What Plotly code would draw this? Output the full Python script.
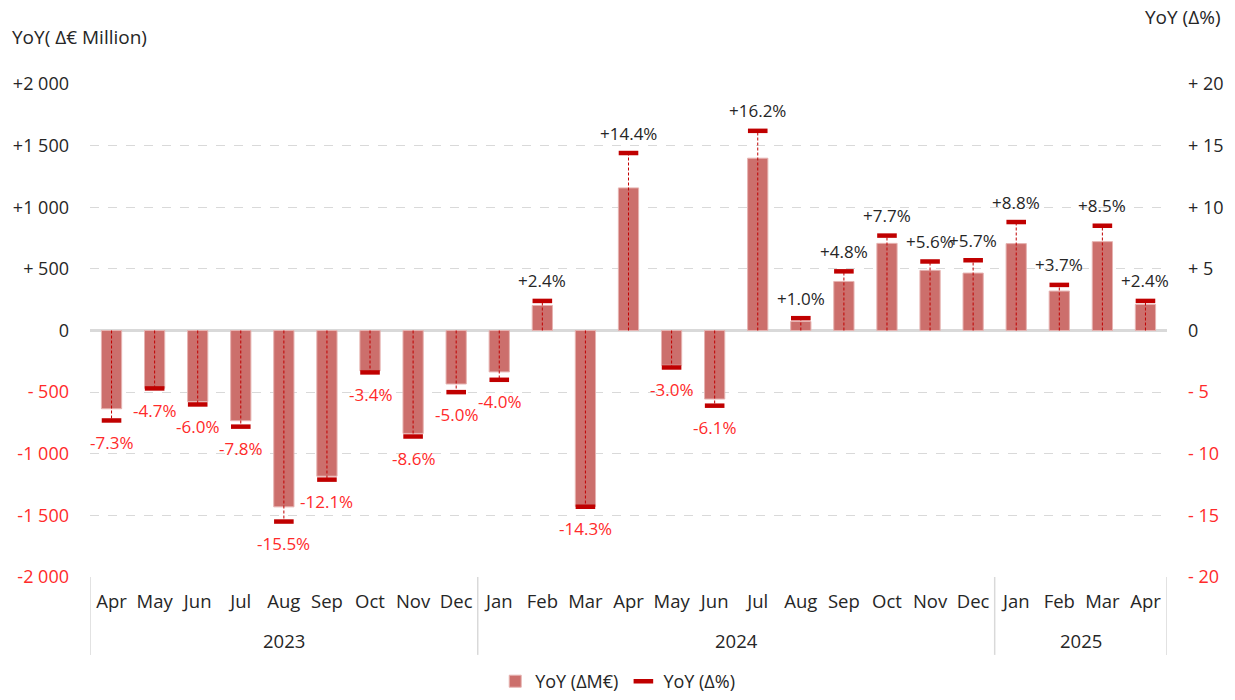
import plotly.graph_objects as go

# ---------------- data ----------------
years = ["2023"] * 9 + ["2024"] * 12 + ["2025"] * 4
months = ["Apr", "May", "Jun", "Jul", "Aug", "Sep", "Oct", "Nov", "Dec",
          "Jan", "Feb", "Mar", "Apr", "May", "Jun", "Jul", "Aug", "Sep", "Oct", "Nov", "Dec",
          "Jan", "Feb", "Mar", "Apr"]
yoy_meur = [-635, -469, -577, -732, -1431, -1182, -328, -835, -434,
            -336, 203, -1428, 1157, -282, -556, 1398, 73, 398, 707, 488, 466,
            705, 320, 721, 211]
yoy_pct = [-7.3, -4.7, -6.0, -7.8, -15.5, -12.1, -3.4, -8.6, -5.0,
           -4.0, 2.4, -14.3, 14.4, -3.0, -6.1, 16.2, 1.0, 4.8, 7.7, 5.6, 5.7,
           8.8, 3.7, 8.5, 2.4]

left_tickvals = [-2000, -1500, -1000, -500, 0, 500, 1000, 1500, 2000]
left_ticktext = ["-2 000", "-1 500", "-1 000", "- 500", "0", "+ 500", "+1 000", "+1 500", "+2 000"]
right_tickvals = [-20, -15, -10, -5, 0, 5, 10, 15, 20]
right_ticktext = ["- 20", "- 15", "- 10", "- 5", "0", "+ 5", "+ 10", "+ 15", "+ 20"]

# ---------------- styles ----------------
FONT = "Open Sans"
BAR_COLOR = "#CC6F6C"
MARK_COLOR = "#C00000"
NEG_COLOR = "#FF2A2A"
TXT_COLOR = "#262626"
GRID = "#D9D9D9"


def colored(labels, vals):
    out = []
    for t, v in zip(labels, vals):
        if v < 0:
            out.append(f'<span style="color:{NEG_COLOR}">{t}</span>')
        else:
            out.append(t)
    return out


n = len(months)
idx = list(range(n))

fig = go.Figure()

fig.add_trace(go.Bar(
    x=idx, y=yoy_meur, name="YoY (ΔM€)",
    marker=dict(color=BAR_COLOR, line=dict(color="#E6B3B1", width=1)),
    width=0.47, xaxis="x", yaxis="y", hoverinfo="y",
))

# dashed stems from 0 to the percentage marker
sx, sy = [], []
for i, p in zip(idx, yoy_pct):
    sx += [i, i, None]
    sy += [0, p, None]
fig.add_trace(go.Scatter(
    x=sx, y=sy, mode="lines", showlegend=False, hoverinfo="skip",
    line=dict(color=MARK_COLOR, width=1, dash="3px,2px"),
    xaxis="x", yaxis="y2",
))

# percentage markers
fig.add_trace(go.Scatter(
    x=idx, y=yoy_pct, mode="markers", name="YoY (Δ%)",
    marker=dict(symbol="line-ew", size=14, color=MARK_COLOR,
                line=dict(color=MARK_COLOR, width=4.5)),
    xaxis="x", yaxis="y2",
))

annotations = []
# percentage labels
for i, p in zip(idx, yoy_pct):
    annotations.append(dict(
        x=i, y=p, xref="x", yref="y2", text=f"{p:+.1f}%", showarrow=False,
        xanchor="center", yanchor="middle", yshift=20 if p >= 0 else -22,
        font=dict(family=FONT, size=17, color=TXT_COLOR if p >= 0 else NEG_COLOR),
    ))

# year group labels and dividers
shapes = []
groups = []
start = 0
for i in range(1, n + 1):
    if i == n or years[i] != years[start]:
        groups.append((years[start], start, i - 1))
        start = i
for yr, a, b in groups:
    annotations.append(dict(
        x=(a + b) / 2, y=-0.1298, xref="x", yref="paper", text=yr, showarrow=False,
        xanchor="center", yanchor="middle",
        font=dict(family=FONT, size=18.5, color=TXT_COLOR),
    ))
bounds = [groups[0][1] - 0.5] + [g[2] + 0.5 for g in groups]
for bx in bounds:
    shapes.append(dict(type="line", xref="x", yref="paper", x0=bx, x1=bx,
                       y0=0, y1=-0.158, line=dict(color=GRID, width=1.5)))

annotations += [
    dict(text="YoY( Δ€ Million)", xref="paper", yref="paper", x=-0.0743, y=1.095,
         xanchor="left", yanchor="middle", showarrow=False,
         font=dict(family=FONT, size=19, color=TXT_COLOR)),
    dict(text="YoY (Δ%)", xref="paper", yref="paper", x=1.052, y=1.136,
         xanchor="right", yanchor="middle", showarrow=False,
         font=dict(family=FONT, size=19, color=TXT_COLOR)),
]

fig.update_layout(
    width=1235, height=700,
    margin=dict(l=90, r=68, t=84, b=123, autoexpand=False),
    paper_bgcolor="white", plot_bgcolor="white",
    font=dict(family=FONT, size=18, color=TXT_COLOR),
    xaxis=dict(
        range=[-0.5, n - 0.5], tickvals=idx, ticktext=months,
        showgrid=False, showline=False, zeroline=False, ticks="",
        automargin=False, ticklabelstandoff=11,
        tickfont=dict(family=FONT, size=18.5, color=TXT_COLOR),
    ),
    yaxis=dict(
        range=[-2000, 2000], tickvals=left_tickvals,
        ticktext=colored(left_ticktext, left_tickvals),
        showgrid=True, gridcolor=GRID, griddash="dash", gridwidth=1.2,
        zeroline=True, zerolinecolor=GRID, zerolinewidth=2.5,
        showline=False, ticks="", ticklabelstandoff=20, automargin=False,
        tickfont=dict(family=FONT, size=18, color=TXT_COLOR),
    ),
    yaxis2=dict(
        overlaying="y", side="right", range=[-20, 20], tickvals=right_tickvals,
        ticktext=colored(right_ticktext, right_tickvals),
        showgrid=False, zeroline=False, showline=False, ticks="",
        ticklabelstandoff=20, automargin=False,
        tickfont=dict(family=FONT, size=18, color=TXT_COLOR),
    ),
    legend=dict(orientation="h", x=0.49, xanchor="center",
                yref="container", y=0.0, yanchor="bottom",
                itemwidth=30, tracegroupgap=0,
                font=dict(family=FONT, size=18, color=TXT_COLOR)),
    annotations=annotations,
    shapes=shapes,
)

fig.write_html("out.html", config={"displayModeBar": False},
               post_script="document.body.style.margin='0';")
